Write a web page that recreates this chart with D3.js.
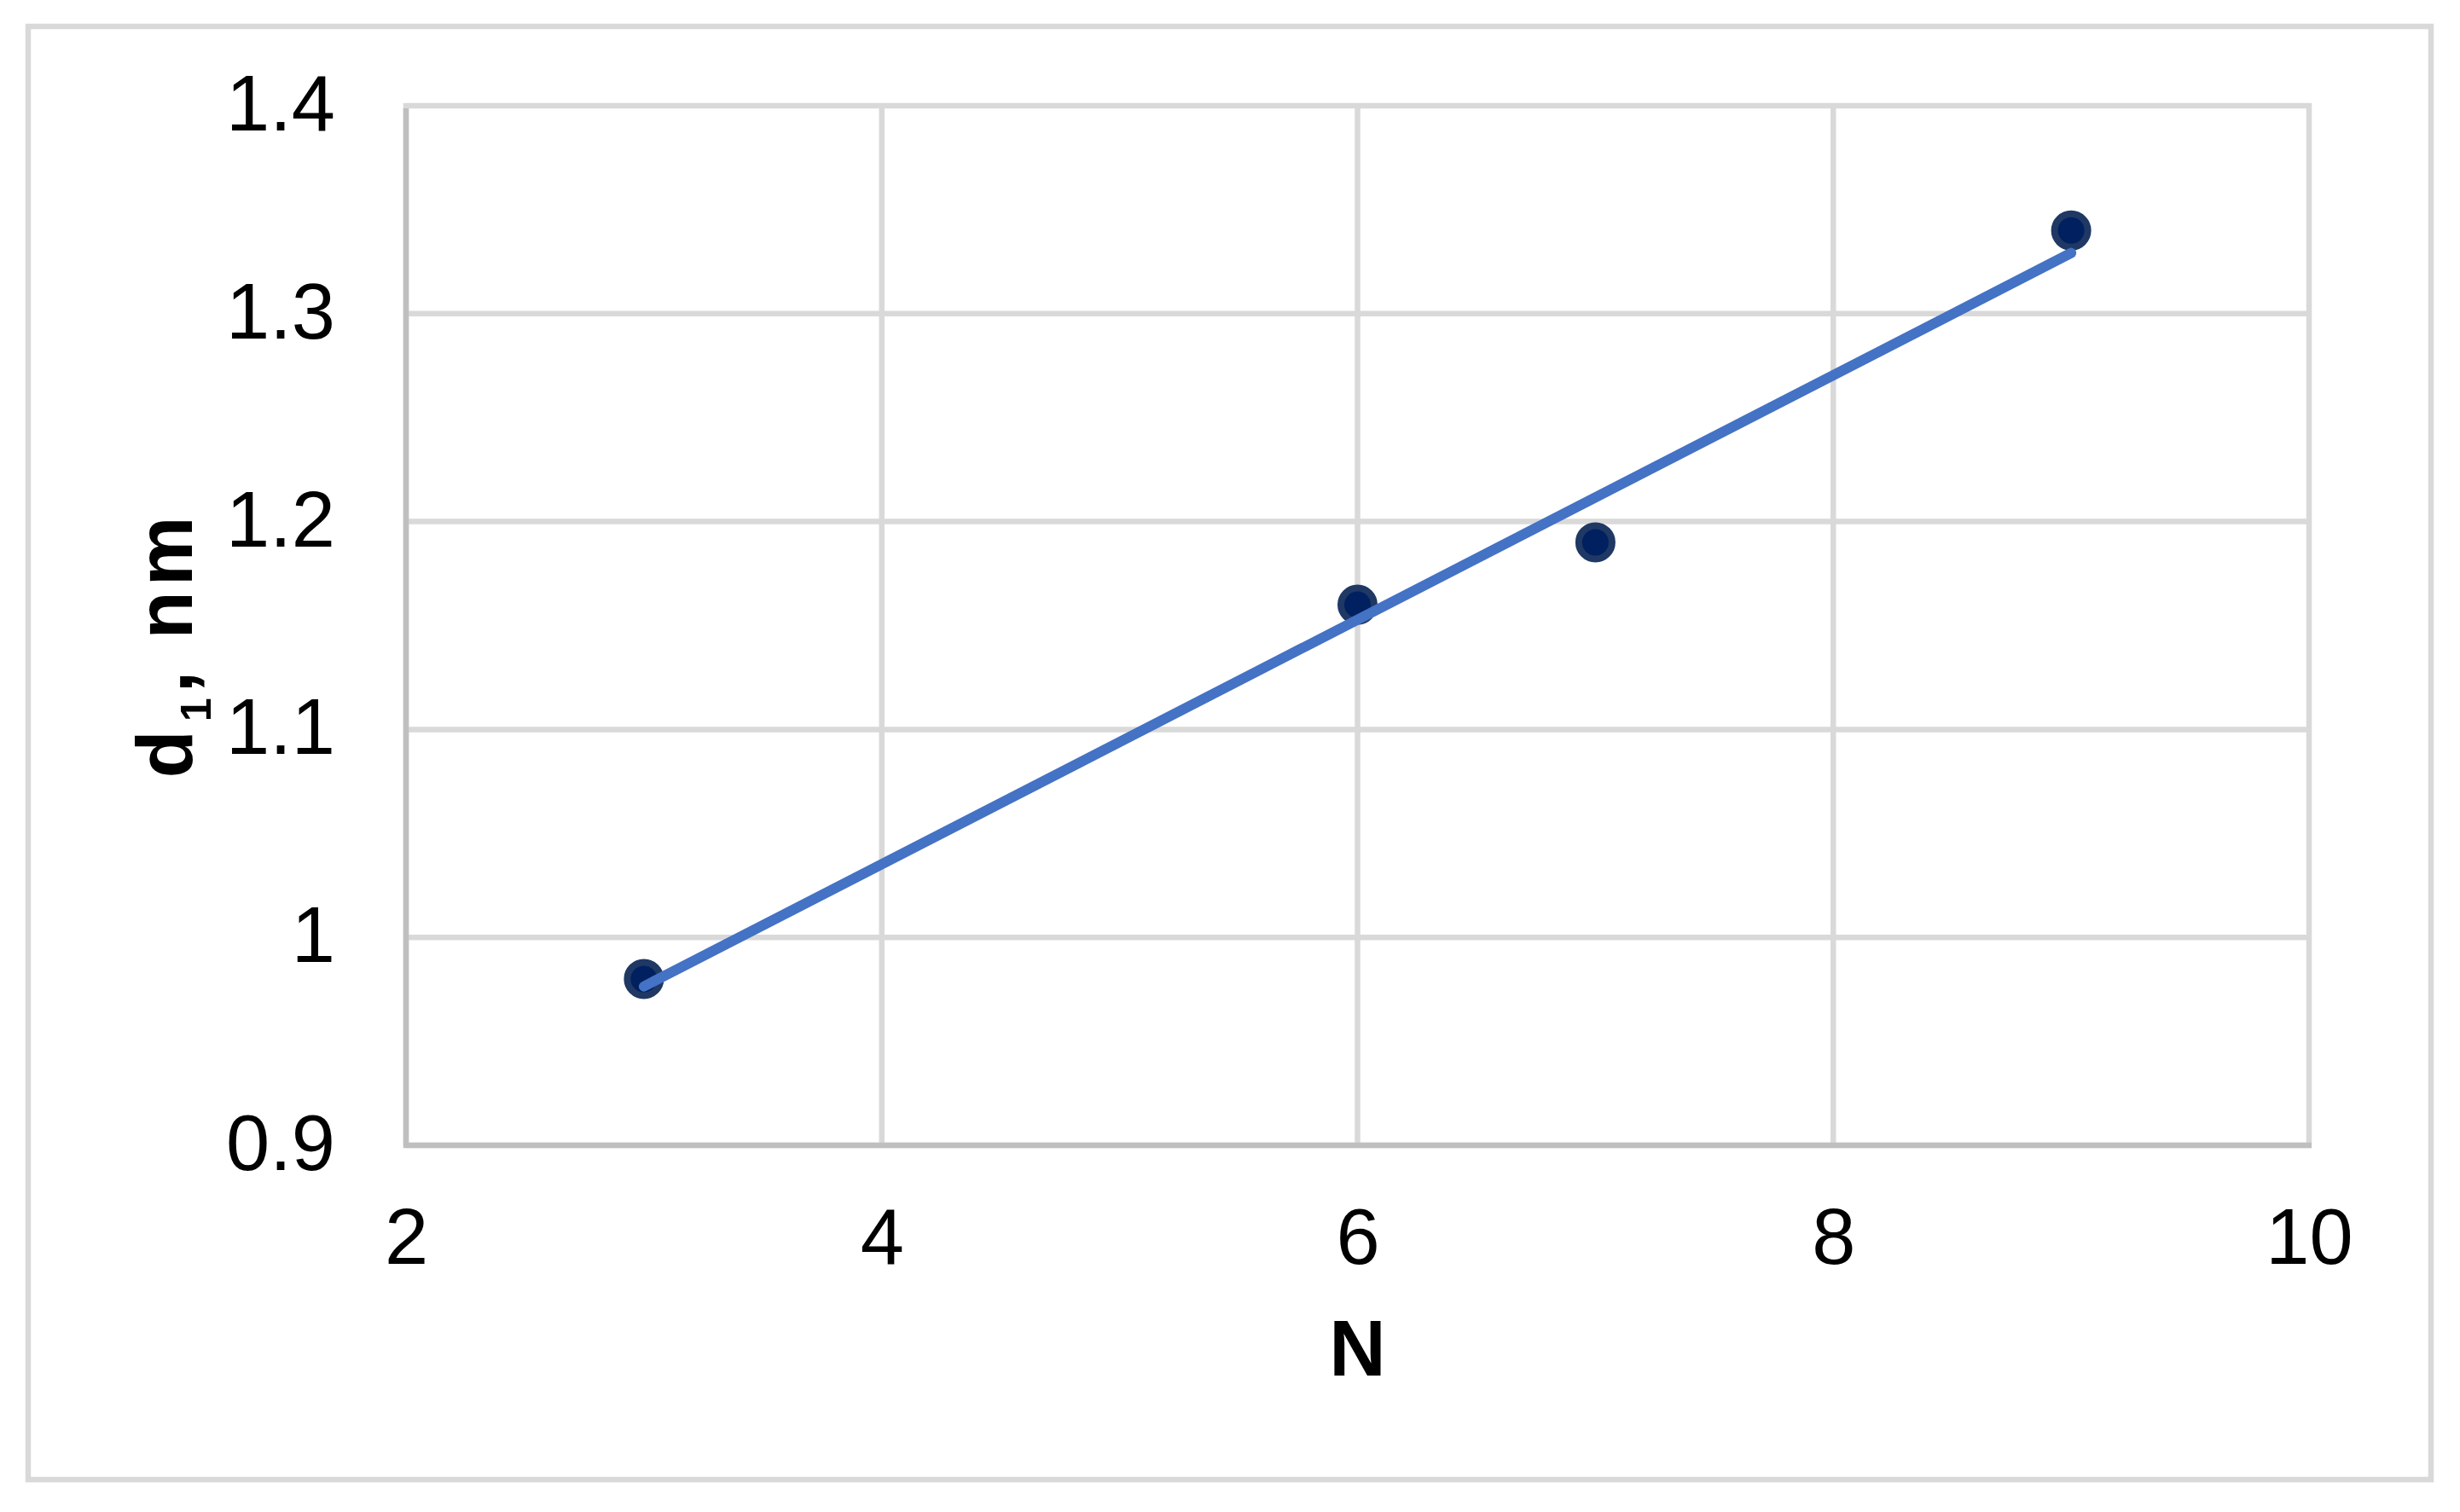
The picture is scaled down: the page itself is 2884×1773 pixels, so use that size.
<!DOCTYPE html>
<html>
<head>
<meta charset="utf-8">
<script src="https://cdn.jsdelivr.net/npm/d3@7"></script>
<style>
  html, body { margin: 0; padding: 0; background: #ffffff; }
  svg { display: block; }
  text { font-family: "Liberation Sans", Arial, sans-serif; }
</style>
</head>
<body>
<svg id="chart" width="2884" height="1773"></svg>
<script>
// ---- data ----
const nValues = [3, 6, 7, 9];
const d1Values = [0.98, 1.16, 1.19, 1.34];
const xTickValues = [2, 4, 6, 8, 10];
const xTickLabels = ["2", "4", "6", "8", "10"];
const yTickValues = [0.9, 1.0, 1.1, 1.2, 1.3, 1.4];
const yTickLabels = ["0.9", "1", "1.1", "1.2", "1.3", "1.4"];
const xTitle = "N";
const yTitleMain = "d";
const yTitleSub = "1";
const yTitleRest = ", nm";

// ---- layout ----
const W = 2884, H = 1773;
const plot = { left: 476, right: 2707, top: 124, bottom: 1343 };
const svg = d3.select("#chart");

svg.append("rect").attr("x", 0).attr("y", 0).attr("width", W).attr("height", H).attr("fill", "#ffffff");
// outer chart border
svg.append("rect")
  .attr("x", 33).attr("y", 31).attr("width", 2817).attr("height", 1704)
  .attr("fill", "none").attr("stroke", "#d9d9d9").attr("stroke-width", 6.5);

const x = d3.scaleLinear().domain([2, 10]).range([plot.left, plot.right]);
const y = d3.scaleLinear().domain([0.9, 1.4]).range([plot.bottom, plot.top]);

// gridlines
const grid = svg.append("g");
grid.selectAll("line.v").data(xTickValues).join("line")
  .attr("x1", d => x(d)).attr("x2", d => x(d))
  .attr("y1", plot.top - 3).attr("y2", plot.bottom)
  .attr("stroke", "#d9d9d9").attr("stroke-width", 6.5);
grid.selectAll("line.h").data(yTickValues).join("line")
  .attr("x1", plot.left).attr("x2", plot.right + 3)
  .attr("y1", d => y(d)).attr("y2", d => y(d))
  .attr("stroke", "#d9d9d9").attr("stroke-width", 6.5);

// axis lines
svg.append("line")
  .attr("x1", plot.left).attr("x2", plot.left)
  .attr("y1", plot.top + 3).attr("y2", plot.bottom + 3)
  .attr("stroke", "#bfbfbf").attr("stroke-width", 6.5);
svg.append("line")
  .attr("x1", plot.left - 3).attr("x2", plot.right + 3)
  .attr("y1", plot.bottom).attr("y2", plot.bottom)
  .attr("stroke", "#bfbfbf").attr("stroke-width", 6.5);

// axes (labels only)
const xAxis = d3.axisBottom(x).tickValues(xTickValues)
  .tickFormat((d, i) => xTickLabels[i]).tickSize(0).tickPadding(73);
const gx = svg.append("g").attr("transform", `translate(0,${plot.bottom})`).call(xAxis);
gx.select(".domain").remove();
gx.selectAll("text").attr("font-size", 92).attr("fill", "#000")
  .attr("font-family", '"Liberation Sans", Arial, sans-serif')
  .attr("dy", "0.716em");

const yAxis = d3.axisLeft(y).tickValues(yTickValues)
  .tickFormat((d, i) => yTickLabels[i]).tickSize(0).tickPadding(83);
const gy = svg.append("g").attr("transform", `translate(${plot.left},0)`).call(yAxis);
gy.select(".domain").remove();
gy.selectAll("text").attr("font-size", 92).attr("fill", "#000")
  .attr("font-family", '"Liberation Sans", Arial, sans-serif')
  .attr("dy", "0.31em");

// axis titles
svg.append("text")
  .attr("x", x(6)).attr("y", 1613)
  .attr("text-anchor", "middle")
  .attr("font-size", 92).attr("font-weight", "bold").attr("fill", "#000")
  .text(xTitle);

const yt = svg.append("text")
  .attr("transform", "translate(225,756) rotate(-90)")
  .attr("text-anchor", "middle")
  .attr("letter-spacing", 6)
  .attr("font-size", 92).attr("font-weight", "bold").attr("fill", "#000");
yt.append("tspan").text(yTitleMain);
yt.append("tspan").attr("font-size", 50).attr("dx", 4).attr("dy", 22).text(yTitleSub);
yt.append("tspan").attr("dy", -22).text(yTitleRest);

// data points
const pts = nValues.map((n, i) => ({ n, d: d1Values[i] }));
svg.append("g").selectAll("circle").data(pts).join("circle")
  .attr("cx", d => x(d.n)).attr("cy", d => y(d.d))
  .attr("r", 19.5)
  .attr("fill", "#002060").attr("stroke", "#1f3864").attr("stroke-width", 8);

// linear trendline (least squares from the data)
const mx = d3.mean(nValues), my = d3.mean(d1Values);
const sxy = d3.sum(nValues, (v, i) => (v - mx) * (d1Values[i] - my));
const sxx = d3.sum(nValues, v => (v - mx) * (v - mx));
const slope = sxy / sxx, intercept = my - slope * mx;
const xr = d3.extent(nValues);
const trend = xr.map(v => ({ n: v, d: intercept + slope * v }));
svg.append("path")
  .datum(trend)
  .attr("d", d3.line().x(d => x(d.n)).y(d => y(d.d)))
  .attr("fill", "none").attr("stroke", "#4472c4").attr("stroke-width", 12)
  .attr("stroke-linecap", "round");
</script>
</body>
</html>
